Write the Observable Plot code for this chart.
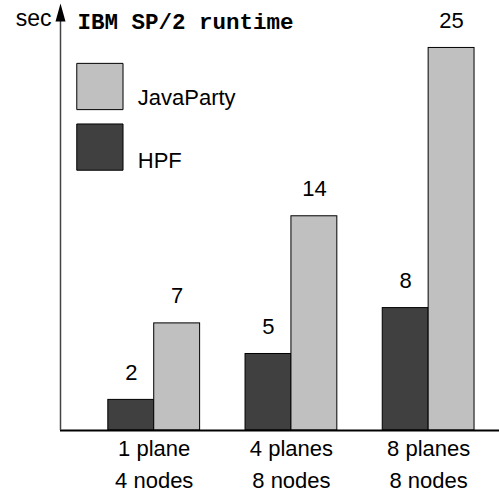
<!DOCTYPE html>
<html>
<head>
<meta charset="utf-8">
<script src="https://cdn.jsdelivr.net/npm/d3@7"></script>
<script src="https://cdn.jsdelivr.net/npm/@observablehq/plot@0.6"></script>
<style>
  html, body { margin: 0; padding: 0; background: #fff; }
  #chart svg { display: block; font-family: "Liberation Sans", Arial, sans-serif; }
</style>
</head>
<body>
<div id="chart"></div>
<script>
// ---- data ----
const categories = ["1 plane\n4 nodes", "4 planes\n8 nodes", "8 planes\n8 nodes"];
const seriesNames = ["HPF", "JavaParty"];
const hpfValues = [2, 5, 8];
const javaPartyValues = [7, 14, 25];
const seriesColors = ["#404040", "#c0c0c0"];
const titleText = "IBM SP/2 runtime";
const yLabel = "sec";

// ---- build table ----
const rows = [];
categories.forEach((c, i) => {
  rows.push({cat: c, i, s: 0, series: seriesNames[0], value: hpfValues[i]});
  rows.push({cat: c, i, s: 1, series: seriesNames[1], value: javaPartyValues[i]});
});
const half = 0.3345;      // bar width in category-step units
const xMin = -0.683, xMax = 2.5164;
const yMax = 27.84;
const legendItems = [seriesNames[1], seriesNames[0]];
const SANS = "Liberation Sans";
const MONO = "Liberation Mono";

const arrowHead = {
  draw(ctx) {
    ctx.moveTo(0, -1);
    ctx.lineTo(5, 17);
    ctx.lineTo(-5, 17);
    ctx.closePath();
  }
};

const chart = Plot.plot({
  width: 499,
  height: 493,
  marginLeft: 60,
  marginRight: 0,
  marginTop: 4,
  marginBottom: 63,
  style: {fontFamily: SANS, fontSize: "22px", background: "#fff", color: "#000", overflow: "visible"},
  x: {type: "linear", domain: [xMin, xMax], axis: null},
  y: {domain: [0, yMax], axis: null},
  color: {domain: seriesNames, range: seriesColors},
  marks: [
    // bars
    Plot.rectY(rows, {
      x1: d => d.i - half + d.s * half,
      x2: d => d.i + d.s * half,
      y1: 0,
      y2: "value",
      fill: "series",
      stroke: "#000",
      strokeWidth: 1
    }),
    // value labels
    Plot.text(rows, {
      x: d => d.i - half / 2 + d.s * half,
      y: "value",
      text: d => String(d.value),
      dy: -20,
      lineAnchor: "bottom",
      fontFamily: SANS,
      fontSize: 22,
      fill: "#000"
    }),
    // x axis line
    Plot.ruleY([0], {x1: xMin, x2: xMax, stroke: "#000", strokeWidth: 2}),
    // y axis line
    Plot.ruleX([xMin], {y1: 0, y2: yMax - 0.5, stroke: "#444", strokeWidth: 1.5}),
    // arrow head
    Plot.dot([yMax], {x: () => xMin, y: d => d, symbol: arrowHead, fill: "#000", stroke: "none"}),
    // category labels (two lines, last baseline anchored)
    Plot.text(categories, {
      x: (d, i) => i,
      y: () => 0,
      text: d => d,
      lineAnchor: "bottom",
      dy: 57,
      lineHeight: 1.41,
      fontFamily: SANS,
      fontSize: 22,
      fill: "#000"
    }),
    // y label
    Plot.text([yLabel], {frameAnchor: "top-left", dx: -9, dy: 21, textAnchor: "end", lineAnchor: "bottom", fontFamily: SANS, fontSize: 23, fill: "#000"}),
    // title
    Plot.text([titleText], {frameAnchor: "top-left", dx: 17, dy: 24, textAnchor: "start", lineAnchor: "bottom",
      fontFamily: MONO, fontWeight: "bold", fontSize: 22.5, fill: "#000"}),
    // legend swatches
    Plot.dot([legendItems[0]], {frameAnchor: "top-left", dx: 39.4, dy: 82, symbol: "square", r: 26.1, fill: d => d, stroke: "#000", strokeWidth: 1}),
    Plot.dot([legendItems[1]], {frameAnchor: "top-left", dx: 39.4, dy: 142.6, symbol: "square", r: 26.1, fill: d => d, stroke: "#000", strokeWidth: 1}),
    Plot.text([legendItems[0]], {frameAnchor: "top-left", dx: 77.3, dy: 100, textAnchor: "start", lineAnchor: "bottom", fontFamily: SANS, fontSize: 22, fill: "#000"}),
    Plot.text([legendItems[1]], {frameAnchor: "top-left", dx: 77.3, dy: 163, textAnchor: "start", lineAnchor: "bottom", fontFamily: SANS, fontSize: 22, fill: "#000"})
  ]
});
document.getElementById("chart").appendChild(chart);
</script>
</body>
</html>
